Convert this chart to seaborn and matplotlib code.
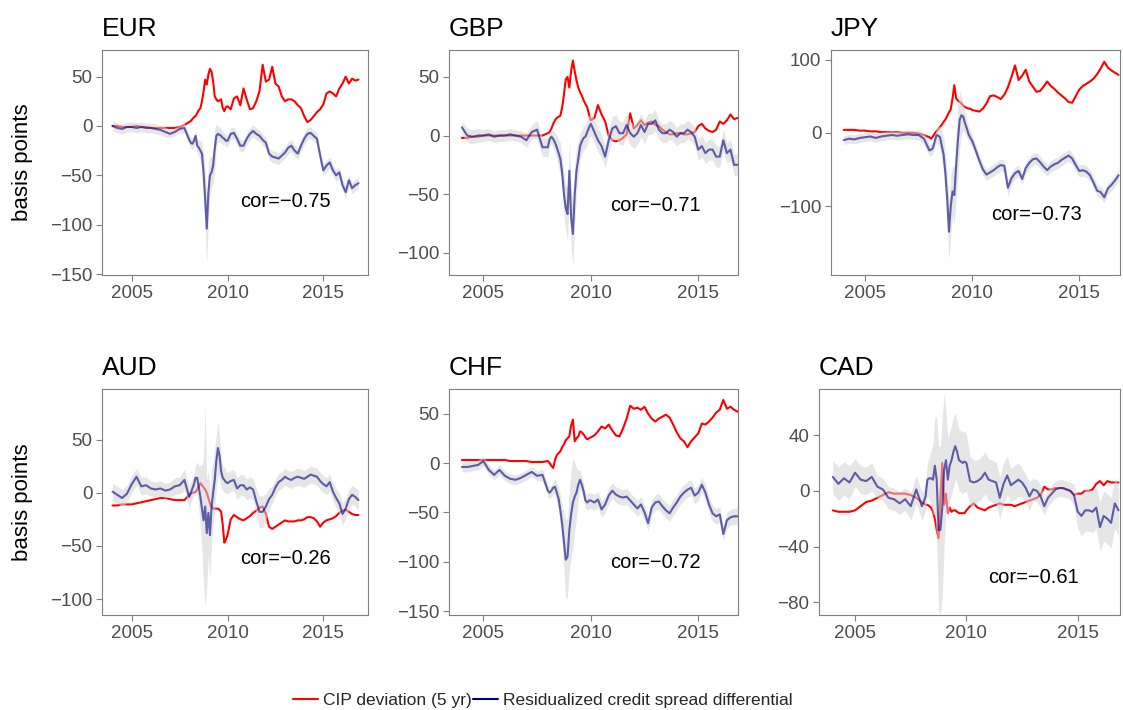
import numpy as np
import pandas as pd
import matplotlib
matplotlib.use("Agg")
import matplotlib.pyplot as plt
import seaborn as sns
from matplotlib.lines import Line2D

sns.set_style("white")
plt.rcParams["font.family"] = ["Liberation Sans", "DejaVu Sans"]

# date grid (decimal years): quarterly 2004-2007, monthly 2008-2009, bi-monthly 2010-2016
t = np.concatenate([2004 + 0.25 * np.arange(16), 2008 + np.arange(24) / 12, 2010 + np.arange(42) / 6])

# ---------------- EUR ----------------
eur_cip = ([0, 0, -1, -1, -1, 0, -1, -1, -2, -2, -2, -2, -2, -2, -1, 1]
           + [4, 5, 7, 9, 10, 13, 16, 18, 25, 35, 47, 42]
           + [52, 58, 55, 45, 30, 27, 25, 26, 27, 18, 15, 19]
           + [20, 17, 28, 30, 21, 38] + [27, 17, 18, 25, 35, 62] + [45, 47, 60, 43, 40, 30]
           + [25, 27, 27, 25, 21, 18] + [10, 4, 6, 10, 14, 17] + [22, 33, 35, 33, 30, 38]
           + [43, 50, 43, 48, 46, 47])
eur_cs = ([0, -2, -3, -1, -1, -2, -1, -2, -2, -3, -4, -6, -8, -6, -3, -2]
          + [-14, -17, -18, -15, -10, -20, -22, -25, -28, -48, -75, -104]
          + [-68, -50, -47, -40, -23, -10, -8, -9, -10, -12, -13, -15]
          + [-15, -8, -7, -13, -20, -20] + [-13, -8, -5, -8, -10, -14] + [-17, -28, -31, -32, -33, -30]
          + [-27, -22, -20, -25, -28, -20] + [-13, -8, -7, -10, -13, -30] + [-45, -40, -37, -45, -50, -47]
          + [-60, -67, -55, -63, -60, -58])
eur_ci = ([5, 5, 5, 5, 5, 5, 5, 5, 5, 5, 5, 5, 4, 4, 4, 5]
          + [5, 5, 6, 6, 6, 7, 8, 10, 12, 20, 30, 35]
          + [30, 20, 15, 18, 20, 12, 8, 8, 7, 7, 6, 6]
          + [6, 6, 6, 6, 6, 6] + [6, 6, 6, 6, 6, 6] + [6, 6, 6, 6, 6, 6]
          + [6, 6, 6, 6, 6, 6] + [6, 6, 6, 6, 6, 6] + [6, 6, 6, 6, 6, 6]
          + [6, 6, 6, 6, 6, 6])

# ---------------- GBP ----------------
gbp_cip = ([-2, -2, -1, -1, 0, 0, 0, 0, 0, 0, 0, 0, 0, 0, 0, 0]
           + [2, 3, 6, 10, 13, 15, 16, 17, 24, 35, 48, 50]
           + [41, 55, 64, 55, 47, 41, 37, 34, 30, 27, 24, 18]
           + [13, 15, 26, 18, 12, 0] + [-4, -5, -4, -2, 1, 19] + [6, 9, 13, 9, 11, 12]
           + [9, 8, 5, 3, 1, 1] + [2, 2, 1, 1, 2, 3] + [8, 10, 6, 4, 3, 5]
           + [12, 10, 13, 18, 14, 15])
gbp_cs = ([7, 0, -1, 0, 0, 1, -1, 0, 0, 1, 0, -1, -4, 3, 5, -10]
          + [-10, -3, -1, -3, -6, -10, -15, -20, -32, -50, -62, -67]
          + [-30, -70, -84, -50, -30, -20, -9, -5, -2, -1, 3, 7]
          + [10, 3, -4, -9, -18, -4] + [6, 8, 2, 2, 9, 2] + [-1, 2, 9, 3, 10, 10]
          + [13, 5, 2, 2, 5, 3] + [-1, 2, 2, 5, 3, -1] + [-12, -9, -15, -12, -12, -18]
          + [-18, -4, -15, -12, -25, -25])
gbp_ci = ([6, 6, 6, 6, 5, 5, 5, 5, 5, 5, 5, 5, 6, 6, 8, 8]
          + [8, 6, 6, 7, 8, 10, 12, 14, 15, 18, 20, 22]
          + [25, 25, 28, 25, 20, 15, 12, 10, 10, 10, 10, 10]
          + [10, 10, 10, 10, 10, 10] + [10, 10, 10, 10, 10, 10] + [10, 10, 10, 10, 9, 9]
          + [9, 8, 8, 8, 8, 8] + [8, 8, 8, 8, 8, 8] + [9, 9, 9, 9, 9, 9]
          + [9, 9, 9, 9, 9, 9])

# ---------------- JPY ----------------
jpy_cip = ([4, 4, 4, 3, 3, 2, 2, 1, 1, 1, 1, 0, 0, 0, -1, -3]
           + [-6, -8, -5, -1, 2, 5, 8, 11, 15, 18, 23, 28]
           + [32, 47, 65, 47, 44, 42, 40, 37, 35, 34, 33, 33]
           + [31, 30, 29, 33, 40, 50] + [51, 49, 46, 52, 62, 76] + [92, 72, 78, 86, 70, 63]
           + [56, 57, 63, 70, 64, 60] + [55, 51, 47, 42, 41, 50] + [59, 64, 67, 70, 74, 80]
           + [88, 97, 89, 85, 82, 79])
jpy_cs = ([-10, -8, -9, -7, -6, -5, -7, -5, -4, -3, -4, -3, -2, -3, -3, -8]
          + [-24, -23, -21, -12, -3, -4, -6, -18, -30, -55, -90, -135]
          + [-100, -80, -85, -45, -10, 18, 24, 22, 13, 6, -2, -7]
          + [-11, -24, -38, -50, -57, -54] + [-51, -47, -44, -45, -75, -62] + [-55, -52, -63, -48, -41, -36]
          + [-35, -40, -46, -51, -46, -43] + [-41, -37, -34, -31, -35, -44] + [-52, -51, -53, -58, -68, -79]
          + [-81, -88, -76, -71, -65, -58])
jpy_ci = ([6, 6, 6, 6, 6, 6, 6, 6, 6, 6, 6, 6, 6, 6, 7, 8]
          + [8, 8, 8, 8, 10, 12, 15, 20, 25, 30, 35, 40]
          + [40, 35, 40, 45, 50, 40, 25, 18, 15, 12, 10, 10]
          + [8, 8, 8, 8, 8, 8] + [8, 8, 8, 8, 12, 8] + [8, 8, 8, 8, 8, 8]
          + [8, 8, 8, 8, 8, 8] + [8, 8, 8, 8, 8, 8] + [8, 8, 8, 8, 8, 8]
          + [8, 8, 8, 8, 8, 8])

# ---------------- AUD ----------------
aud_cip = ([-12, -12, -11, -11, -11, -10, -9, -8, -7, -6, -5, -5, -6, -7, -7, -7]
           + [-2, -1, 0, 0, 1, 3, 6, 9, 7, 5, 3, 0]
           + [-5, -10, -13, -15, -15, -15, -15, -16, -18, -30, -47, -44]
           + [-40, -25, -21, -23, -25, -26] + [-24, -22, -19, -17, -14, -13] + [-20, -32, -34, -32, -30, -28]
           + [-26, -27, -27, -27, -26, -26] + [-25, -23, -23, -24, -27, -32] + [-28, -26, -25, -24, -22, -19]
           + [-17, -16, -18, -20, -21, -21])
aud_cs = ([1, -2, -5, -1, 8, 15, 6, 7, 4, 3, 4, 2, 3, 6, 7, 12]
          + [-4, 0, 4, 8, 14, 14, 5, -4, -15, -26, -13, -38]
          + [-19, -40, -13, 0, 12, 30, 42, 35, 20, 14, 12, 10]
          + [9, 11, 12, 4, 7, 7] + [3, 5, 3, -8, -18, -18] + [-13, -6, -2, 5, 10, 12]
          + [15, 13, 12, 14, 15, 14] + [13, 15, 17, 16, 15, 11] + [8, 6, 10, 1, -5, -10]
          + [-20, -15, -6, -2, -4, -7])
aud_ci = ([8, 8, 8, 8, 8, 8, 8, 8, 7, 7, 7, 7, 7, 8, 8, 10]
          + [10, 10, 10, 10, 12, 15, 20, 30, 40, 60, 95, 50]
          + [40, 40, 35, 30, 30, 25, 25, 20, 15, 12, 12, 10]
          + [10, 10, 10, 10, 10, 10] + [10, 10, 10, 12, 15, 15] + [12, 10, 8, 8, 8, 8]
          + [8, 8, 8, 8, 8, 8] + [8, 8, 8, 8, 8, 8] + [8, 8, 8, 8, 9, 10]
          + [10, 10, 9, 9, 9, 9])

# ---------------- CHF ----------------
chf_cip = ([3, 3, 3, 3, 3, 3, 3, 3, 3, 2, 2, 2, 2, 1, 1, 1]
           + [2, 0, -3, -5, 3, 8, 10, 12, 16, 19, 23, 25]
           + [27, 38, 44, 22, 25, 27, 32, 31, 29, 26, 24, 25]
           + [26, 28, 32, 37, 35, 39] + [33, 28, 27, 35, 45, 58] + [55, 56, 54, 57, 50, 45]
           + [42, 45, 47, 49, 46, 39] + [31, 25, 22, 16, 22, 26] + [30, 40, 39, 42, 46, 51]
           + [54, 64, 55, 57, 54, 52])
chf_cs = ([-4, -4, -3, -2, 2, -7, -12, -7, -13, -16, -17, -15, -12, -9, -13, -12]
          + [-28, -30, -28, -25, -24, -30, -36, -48, -62, -80, -98, -95]
          + [-68, -52, -40, -34, -30, -22, -17, -22, -29, -38, -40, -38]
          + [-38, -40, -37, -47, -42, -33] + [-28, -32, -34, -35, -34, -38] + [-42, -46, -42, -50, -61, -45]
          + [-40, -39, -44, -48, -51, -45] + [-40, -34, -30, -27, -25, -33] + [-30, -22, -30, -42, -51, -54]
          + [-52, -72, -58, -55, -54, -54])
chf_ci = ([5, 5, 5, 5, 5, 5, 5, 5, 5, 5, 5, 5, 5, 5, 5, 6]
          + [6, 6, 6, 6, 8, 10, 12, 15, 20, 30, 40, 40]
          + [40, 45, 45, 35, 25, 15, 10, 8, 8, 8, 8, 8]
          + [8, 8, 8, 8, 8, 8] + [8, 8, 8, 8, 8, 8] + [8, 8, 8, 8, 8, 8]
          + [8, 8, 8, 8, 8, 8] + [8, 8, 8, 8, 8, 8] + [8, 8, 8, 8, 8, 8]
          + [8, 8, 8, 8, 8, 8])

# ---------------- CAD ----------------
cad_cip = ([-14, -15, -15, -15, -14, -11, -8, -7, -5, -3, -1, -2, -2, -2, -3, -5]
           + [-8, -9, -10, -10, -11, -12, -15, -20, -28, -34, -5, 20]
           + [-10, -2, -16, -12, -15, -14, -14, -15, -16, -16, -16, -16]
           + [-14, -11, -9, -12, -13, -14] + [-12, -11, -10, -9, -10, -10] + [-10, -11, -10, -9, -8, -7]
           + [-6, -5, -3, 3, 1, 1] + [2, 2, 2, 1, 0, -3] + [-2, -2, 0, 0, 1, 5]
           + [7, 4, 7, 6, 6, 6])
cad_cs = ([10, 5, 9, 6, 13, 8, 7, 10, 3, 1, -5, -6, -9, -6, -11, 1]
          + [-11, -8, -4, 8, 9, 9, 8, 18, 8, -28, -28, -12]
          + [15, 22, 8, 18, 22, 28, 32, 28, 22, 21, 20, 21]
          + [20, 7, 6, 7, 9, 13] + [8, 7, 6, -5, 5, 11] + [4, 6, 8, 6, 2, -4]
          + [1, 0, -4, -11, -5, -2] + [1, 2, 2, 1, 0, -3] + [-15, -18, -14, -14, -15, -12]
          + [-26, -18, -20, -23, -9, -14])
cad_ci = ([12, 12, 12, 12, 10, 10, 10, 10, 8, 8, 8, 8, 8, 8, 10, 10]
          + [10, 10, 10, 12, 15, 20, 25, 35, 45, 60, 60, 65]
          + [55, 35, 30, 25, 25, 25, 24, 22, 22, 22, 22, 22]
          + [20, 18, 16, 15, 15, 15] + [15, 15, 15, 15, 15, 14] + [12, 12, 12, 10, 10, 10]
          + [8, 8, 8, 6, 6, 6] + [6, 6, 6, 6, 6, 8] + [12, 14, 15, 15, 15, 15]
          + [18, 18, 18, 18, 18, 18])

currencies = ["EUR", "GBP", "JPY", "AUD", "CHF", "CAD"]
cip_series = [eur_cip, gbp_cip, jpy_cip, aud_cip, chf_cip, cad_cip]
cs_series = [eur_cs, gbp_cs, jpy_cs, aud_cs, chf_cs, cad_cs]
ci_series = [eur_ci, gbp_ci, jpy_ci, aud_ci, chf_ci, cad_ci]
cor_labels = ["cor=\u22120.75", "cor=\u22120.71", "cor=\u22120.73", "cor=\u22120.26", "cor=\u22120.72", "cor=\u22120.61"]
cor_y = [-77, -60, -112, -62, -101, -62]
y_ticks = [[-150, -100, -50, 0, 50], [-100, -50, 0, 50], [-100, 0, 100],
           [-100, -50, 0, 50], [-150, -100, -50, 0, 50], [-80, -40, 0, 40]]
y_lims = [(-151, 77), (-119, 73), (-194, 113), (-115, 97.5), (-154, 75), (-89, 73)]
x_lims = [(2003.45, 2017.33), (2003.40, 2016.85), (2003.41, 2016.9),
          (2003.45, 2017.33), (2003.40, 2016.85), (2003.38, 2016.9)]
x_ticks = [2005, 2010, 2015]

# panel boxes in pixels (left, top, right, bottom)
boxes = [(102, 50, 368, 275), (449, 50, 738, 275), (831, 50, 1120, 275),
         (102, 389, 368, 615), (449, 389, 738, 615), (819, 389, 1120, 615)]

W, H = 1123, 710
fig = plt.figure(figsize=(W / 100, H / 100), dpi=100)
fig.patch.set_facecolor("white")

for i, cur in enumerate(currencies):
    l, tp, r, b = boxes[i]
    ax = fig.add_axes([l / W, 1 - b / H, (r - l) / W, (b - tp) / H])
    cs = np.array(cs_series[i], dtype=float)
    ci = np.array(ci_series[i], dtype=float)
    df = pd.DataFrame({"t": t, "cip": cip_series[i], "cs": cs, "lo": cs - ci, "hi": cs + ci})
    sns.lineplot(data=df, x="t", y="cip", color="red", lw=1.5, ax=ax, zorder=2,
                 estimator=None, sort=False)
    ax.fill_between(df["t"], df["lo"], df["hi"], color="#d3d3d3", alpha=0.55, lw=0, zorder=3)
    sns.lineplot(data=df, x="t", y="cs", color="navy", alpha=0.6, lw=1.5, ax=ax, zorder=4,
                 estimator=None, sort=False)
    ax.set_xlim(*x_lims[i])
    ax.set_ylim(*y_lims[i])
    ax.set_xticks(x_ticks)
    ax.set_yticks(y_ticks[i])
    ax.set_xlabel("")
    if i % 3 == 0:
        ax.set_ylabel("basis points", fontsize=16, color="black")
        ax.yaxis.set_label_coords((33 - l) / (r - l), 0.5)
    else:
        ax.set_ylabel("")
    ax.set_title(cur, loc="left", fontsize=19, pad=10, color="black")
    for s in ax.spines.values():
        s.set_color("#7f7f7f")
        s.set_linewidth(0.8)
    ax.tick_params(bottom=True, left=True, length=4, width=0.8, color="#7f7f7f",
                   labelcolor="#4d4d4d", labelsize=13.5, pad=3, direction="out")
    ax.text(2013, cor_y[i], cor_labels[i], ha="center", va="center", fontsize=14.5, color="black", zorder=5)
    ax.grid(False)

handles = [Line2D([0], [0], color="red", lw=1.5), Line2D([0], [0], color="navy", lw=1.5)]
fig.legend(handles, ["CIP deviation (5 yr)", "Residualized credit spread differential"],
           loc="center", bbox_to_anchor=(543 / W, 1 - 700 / H), ncol=2, frameon=False,
           fontsize=12.5, handlelength=1.45, handletextpad=0.3, columnspacing=0.05)

fig.savefig("out.png", dpi=100)
